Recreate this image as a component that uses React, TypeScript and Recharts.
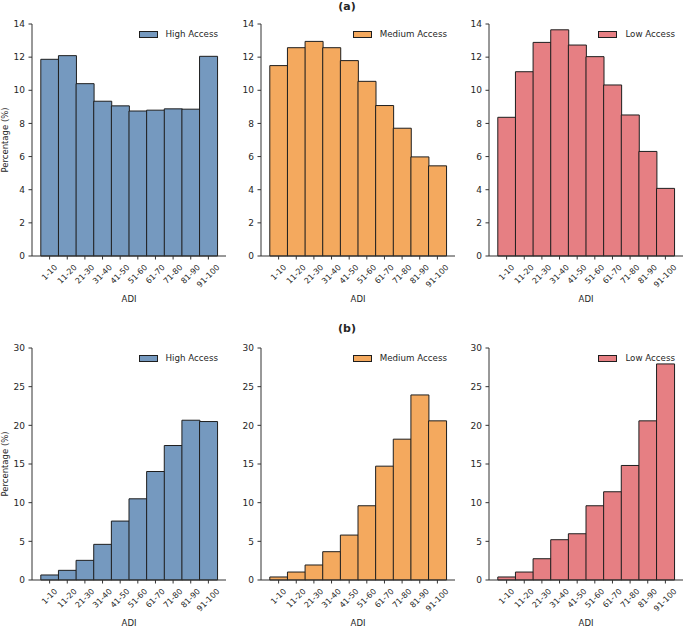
import React from "react";
import { BarChart, Bar, XAxis, YAxis, Legend, Label } from "recharts";

// ADI decile bins
const adiBins = ["1-10", "11-20", "21-30", "31-40", "41-50", "51-60", "61-70", "71-80", "81-90", "91-100"];

// (a) percentages
const highAccessA = [11.87, 12.09, 10.4, 9.34, 9.06, 8.75, 8.8, 8.88, 8.86, 12.05];
const mediumAccessA = [11.49, 12.57, 12.95, 12.57, 11.79, 10.54, 9.08, 7.71, 5.98, 5.44];
const lowAccessA = [8.37, 11.12, 12.89, 13.65, 12.73, 12.03, 10.32, 8.51, 6.31, 4.08];

// (b) percentages
const highAccessB = [0.65, 1.25, 2.54, 4.61, 7.62, 10.5, 14.03, 17.39, 20.66, 20.49];
const mediumAccessB = [0.39, 1.03, 1.94, 3.66, 5.81, 9.6, 14.72, 18.21, 23.93, 20.58];
const lowAccessB = [0.39, 1.03, 2.75, 5.21, 5.98, 9.6, 11.41, 14.81, 20.58, 27.94];

const ticksA = [0, 2, 4, 6, 8, 10, 12, 14];
const ticksB = [0, 5, 10, 15, 20, 25, 30];

const FONT = '"DejaVu Sans", Verdana, sans-serif';
const INK = "#262626";
const SPINE = "#333333";
const EDGE = "#1e1e1e";

const HIGH = "#7599bf";
const MEDIUM = "#f4a95e";
const LOW = "#e67f83";

const toRows = (vals: number[]) => adiBins.map((bin, i) => ({ bin, v: vals[i] }));

function AdiTick(props: any) {
  const { x, y, payload } = props;
  const s = String(payload.value);
  let em = 0;
  for (const ch of s) em += ch === "-" ? 0.361 : 0.636;
  const fs = 8;
  // matplotlib-style: rotated label box centred under its tick
  const half = (em * fs + fs * 1.1) / (2 * Math.SQRT2);
  const cx = x;
  const cy = y + 1.5 + half;
  return (
    <text
      x={cx}
      y={cy}
      transform={`rotate(-45 ${cx} ${cy})`}
      textAnchor="middle"
      dominantBaseline="central"
      fontSize={fs}
      fill={INK}
      fontFamily={FONT}
    >
      {s}
    </text>
  );
}

function LegendBox({ label, color }: { label: string; color: string }) {
  return (
    <div style={{ display: "flex", alignItems: "center", fontFamily: FONT, fontSize: 8.7, color: INK, whiteSpace: "nowrap" }}>
      <span style={{ display: "inline-block", width: 17, height: 5, background: color, border: `1px solid ${EDGE}`, marginRight: 8 }} />
      <span>{label}</span>
    </div>
  );
}

interface PanelProps {
  left: number;
  top: number;
  values: number[];
  ticks: number[];
  max: number;
  label: string;
  color: string;
  yLabel?: boolean;
}

function Panel({ left, top, values, ticks, max, label, color, yLabel }: PanelProps) {
  const plotH = 232;
  return (
    <div style={{ position: "absolute", left: left - 32, top: top - 20 }}>
      <BarChart
        width={230}
        height={20 + plotH + 50}
        data={toRows(values)}
        margin={{ top: 20, right: 4, left: 0, bottom: 0 }}
        barCategoryGap={0}
        style={{ fontFamily: FONT }}
      >
        <XAxis
          dataKey="bin"
          interval={0}
          tick={<AdiTick />}
          tickSize={3.5}
          tickMargin={2}
          height={50}
          padding={{ left: 8.8, right: 8.8 }}
          axisLine={{ stroke: SPINE, strokeWidth: 1 }}
          tickLine={{ stroke: SPINE, strokeWidth: 1 }}
        >
          <Label value="ADI" position="insideBottom" offset={4} style={{ fontSize: 8.5, fill: INK, fontFamily: FONT }} />
        </XAxis>
        <YAxis
          width={32}
          type="number"
          domain={[0, max]}
          ticks={ticks}
          interval={0}
          tickSize={3.5}
          tickMargin={3.5}
          tick={{ fontSize: 9, fill: INK, fontFamily: FONT }}
          axisLine={{ stroke: SPINE, strokeWidth: 1 }}
          tickLine={{ stroke: SPINE, strokeWidth: 1 }}
        >
          {yLabel ? (
            <Label
              value="Percentage (%)"
              angle={-90}
              position="insideLeft"
              offset={5}
              style={{ fontSize: 8.5, fill: INK, fontFamily: FONT, textAnchor: "middle" }}
            />
          ) : null}
        </YAxis>
        <Legend
          layout="vertical"
          align="center"
          verticalAlign="middle"
          content={() => <LegendBox label={label} color={color} />}
          wrapperStyle={{ top: 20 + 5, right: 12, left: "auto", width: "auto", height: "auto" }}
        />
        <Bar dataKey="v" name={label} fill={color} stroke={EDGE} strokeWidth={1} isAnimationActive={false} />
      </BarChart>
    </div>
  );
}

const cols = [32, 261, 489];
const rowTops = [24, 348];

export default function App() {
  return (
    <div style={{ position: "absolute", left: 0, top: 0, width: 685, height: 627, background: "#fff", fontFamily: FONT }}>
      <div style={{ position: "absolute", left: 327, top: 0, width: 40, textAlign: "center", fontWeight: "bold", fontSize: 11, color: INK }}>(a)</div>
      <div style={{ position: "absolute", left: 327, top: 322, width: 40, textAlign: "center", fontWeight: "bold", fontSize: 11, color: INK }}>(b)</div>

      <Panel left={cols[0]} top={rowTops[0]} values={highAccessA} ticks={ticksA} max={14} label="High Access" color={HIGH} yLabel />
      <Panel left={cols[1]} top={rowTops[0]} values={mediumAccessA} ticks={ticksA} max={14} label="Medium Access" color={MEDIUM} />
      <Panel left={cols[2]} top={rowTops[0]} values={lowAccessA} ticks={ticksA} max={14} label="Low Access" color={LOW} />

      <Panel left={cols[0]} top={rowTops[1]} values={highAccessB} ticks={ticksB} max={30} label="High Access" color={HIGH} yLabel />
      <Panel left={cols[1]} top={rowTops[1]} values={mediumAccessB} ticks={ticksB} max={30} label="Medium Access" color={MEDIUM} />
      <Panel left={cols[2]} top={rowTops[1]} values={lowAccessB} ticks={ticksB} max={30} label="Low Access" color={LOW} />
    </div>
  );
}
